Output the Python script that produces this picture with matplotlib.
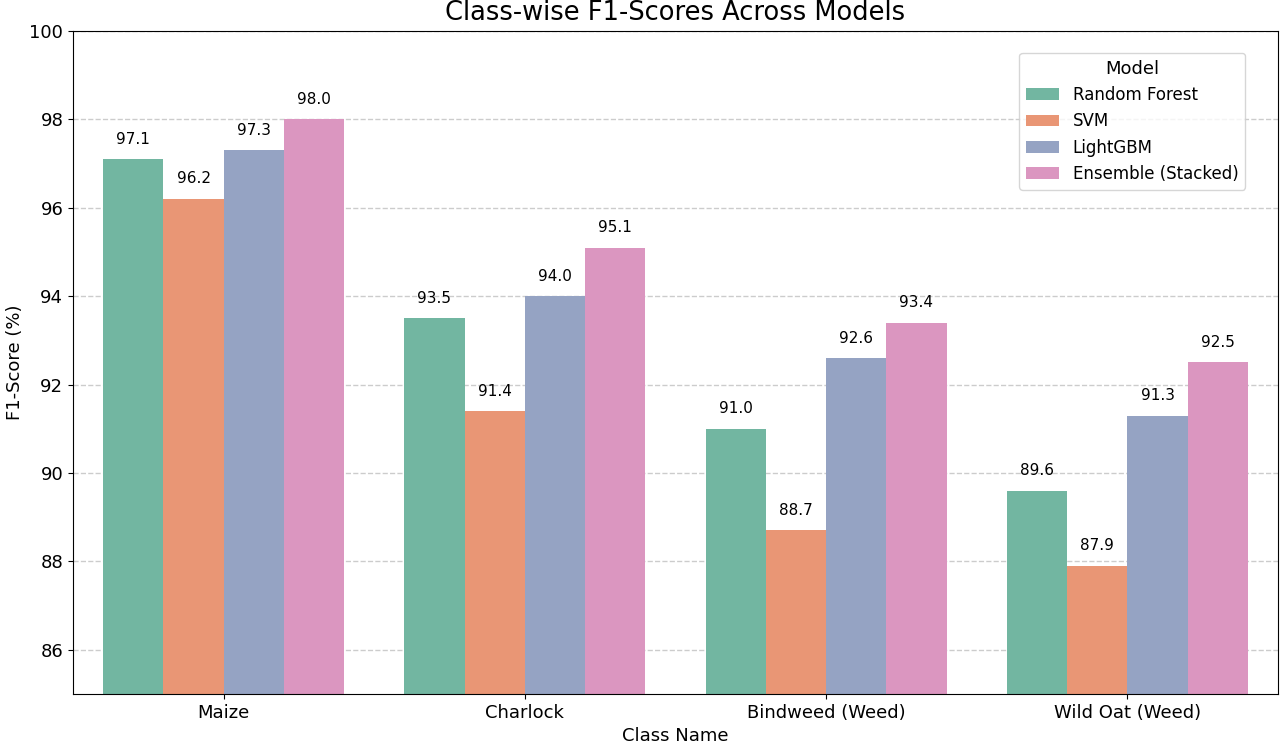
import matplotlib
matplotlib.use("Agg")
import matplotlib.pyplot as plt
import numpy as np
import seaborn as sns

classes = ["Maize", "Charlock", "Bindweed (Weed)", "Wild Oat (Weed)"]
models = ["Random Forest", "SVM", "LightGBM", "Ensemble (Stacked)"]
rf = [97.1, 93.5, 91.0, 89.6]
svm = [96.2, 91.4, 88.7, 87.9]
lgbm = [97.3, 94.0, 92.6, 91.3]
ens = [98.0, 95.1, 93.4, 92.5]
series = [rf, svm, lgbm, ens]

base = sns.color_palette("Set2", 4)
colors = [sns.desaturate(c, 0.75) for c in base]

fig = plt.figure(figsize=(12.8, 7.47), dpi=100)
ax = fig.add_axes([73 / 1280, (747 - 694) / 747, (1278 - 73) / 1280, (694 - 31) / 747])

x = np.arange(len(classes))
w = 0.2
for i, (m, vals) in enumerate(zip(models, series)):
    pos = x - 0.3 + i * w
    bars = ax.bar(pos, vals, width=w, color=colors[i], label=m, zorder=2)
    for b, v in zip(bars, vals):
        ax.annotate(f"{v:.1f}", (b.get_x() + b.get_width() / 2, v),
                    xytext=(0, 9), textcoords="offset points",
                    ha="center", va="bottom", fontsize=11)

ax.set_xlim(-0.5, 3.5)
ax.set_ylim(85, 100)
ax.set_yticks(np.arange(86, 101, 2))
ax.set_xticks(x)
ax.set_xticklabels(classes, fontsize=13)
ax.tick_params(axis="y", labelsize=13)
ax.grid(axis="y", linestyle="--", color="#cccccc", linewidth=1, zorder=0)
ax.set_axisbelow(True)
ax.set_xlabel("Class Name", fontsize=13)
ax.set_ylabel("F1-Score (%)", fontsize=13)
ax.set_title("Class-wise F1-Scores Across Models", fontsize=18.5, pad=8)
leg = ax.legend(title="Model", loc="upper right", fontsize=12, title_fontsize=13,
                borderaxespad=0, bbox_to_anchor=((1245 - 73) / 1205, 1 - (53 - 31) / 663))

fig.savefig("out.png", dpi=100)
